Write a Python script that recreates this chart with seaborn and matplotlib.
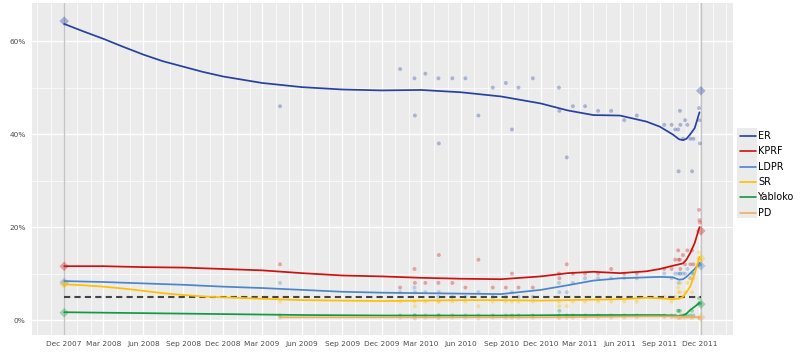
import matplotlib
matplotlib.use("Agg")
import matplotlib.pyplot as plt
import matplotlib.dates as mdates
from matplotlib.lines import Line2D
from matplotlib.patches import Rectangle
from matplotlib.ticker import FixedLocator, FuncFormatter
import numpy as np
import pandas as pd
import seaborn as sns

# ---------------- data ----------------
parties = ["ER", "KPRF", "LDPR", "SR", "Yabloko", "PD"]
party_colors = ["#2840a0", "#cc1111", "#4a86c8", "#ffbf00", "#119944", "#e8b060"]

# smoothed trend lines
smooth_dates = ["2007-12-02", "2008-01-15", "2008-03-01", "2008-04-15", "2008-06-01", "2008-07-15",
                "2008-09-01", "2008-10-15", "2008-12-01", "2009-03-01", "2009-06-01", "2009-09-01",
                "2009-12-01", "2010-03-01", "2010-06-01", "2010-09-01", "2010-12-01", "2011-02-01",
                "2011-04-01", "2011-06-01", "2011-08-01", "2011-09-01", "2011-10-01", "2011-10-15",
                "2011-10-24", "2011-11-01", "2011-11-10", "2011-11-20", "2011-12-01"]
er_smooth = [63.7, 62.1, 60.5, 58.8, 57.1, 55.7, 54.5, 53.4, 52.4, 51.0, 50.1, 49.6,
             49.4, 49.5, 49.0, 48.1, 46.6, 45.1, 44.1, 44.0, 42.7, 41.6, 39.9, 38.9,
             38.7, 39.0, 40.0, 41.3, 44.7]
kprf_smooth = [11.6, 11.6, 11.6, 11.5, 11.4, 11.35, 11.3, 11.15, 11.0, 10.7, 10.1, 9.6,
               9.4, 9.1, 8.9, 8.8, 9.4, 10.1, 10.4, 10.1, 10.5, 11.0, 11.7, 12.0,
               12.2, 13.0, 14.5, 16.6, 20.0]
ldpr_smooth = [8.4, 8.3, 8.2, 8.05, 7.9, 7.75, 7.6, 7.4, 7.2, 6.9, 6.5, 6.1,
               5.9, 5.8, 5.7, 5.6, 6.5, 7.5, 8.5, 9.0, 9.2, 9.3, 9.2, 8.7,
               8.8, 9.3, 10.1, 11.0, 12.3]
sr_smooth = [7.7, 7.5, 7.2, 6.8, 6.3, 5.8, 5.4, 5.1, 4.9, 4.6, 4.3, 4.2,
             4.1, 4.2, 4.3, 4.3, 4.2, 4.3, 4.4, 4.5, 4.8, 4.7, 4.5, 4.6,
             5.0, 6.0, 7.3, 10.0, 13.6]
yabloko_smooth = [1.7, 1.65, 1.6, 1.55, 1.5, 1.45, 1.4, 1.35, 1.3, 1.2, 1.1, 1.05,
                  1.0, 1.0, 1.0, 1.0, 1.05, 1.1, 1.1, 1.1, 1.1, 1.1, 1.0, 0.9,
                  1.0, 1.4, 2.2, 2.9, 3.7]
pd_smooth_dates = ["2009-04-11", "2009-09-01", "2009-12-01", "2010-06-01", "2010-12-01",
                   "2011-04-01", "2011-08-01", "2011-10-15", "2011-11-10", "2011-12-01"]
pd_smooth = [0.6, 0.6, 0.6, 0.6, 0.6, 0.7, 0.8, 0.8, 0.7, 0.6]

# individual polls
poll_dates = ["2009-04-11", "2010-01-12", "2010-02-14", "2010-02-15", "2010-03-11", "2010-04-10",
              "2010-04-11", "2010-05-12", "2010-06-11", "2010-07-11", "2010-08-13", "2010-09-12",
              "2010-09-26", "2010-10-11", "2010-11-13", "2011-01-12", "2011-01-13", "2011-01-30",
              "2011-02-13", "2011-03-13", "2011-04-12", "2011-05-12", "2011-06-11", "2011-07-10",
              "2011-09-11", "2011-09-28", "2011-10-06", "2011-10-13", "2011-10-14", "2011-10-17",
              "2011-10-18", "2011-10-24", "2011-10-29", "2011-11-03", "2011-11-10", "2011-11-14",
              "2011-11-17", "2011-11-30", "2011-12-01", "2011-12-02"]
poll_er = [46, 54, 52, 44, 53, 52, 38, 52, 52, 44, 50, 51,
           41, 50, 52, 50, 45, 35, 46, 46, 45, 45, 43, 44,
           42, 42, 41, 41, 32, 45, 42, 39, 43, 42, 39, 32,
           39, 45.6, 43, 38]
poll_kprf = [12, 7, 11, 8, 8, 8, 14, 8, 7, 13, 7, 7,
             10, 7, 7, 10, 9, 12, 10, 10, 10, 11, 10, 10,
             11, 11, 13, 15, 13, 13, 11, 14, 12, 15, 12, 15,
             12, 23.7, 21.5, 21]
poll_ldpr = [8, 6, 7, 6, 6, 5, 6, 5, 5, 6, 5, 5,
             6, 5, 5, 8, 6, 6, 8, 9, 9, 9, 9, 9,
             10, 9, 10, 10, 8, 10, 10, 10, 10, 11, 9, 10,
             10, 11.8, 12, 12]
poll_sr = [4, 4, 4, 3, 4, 4, 4, 4, 4, 3, 4, 4,
           4, 4, 4, 4, 3, 3, 4, 4, 4, 4, 4, 4,
           5, 4, 5, 7, 6, 6, 8, 5, 6, 8, 9, 6,
           9, 14.6, 13.3, 13]
poll_yabloko = [1, 1, 1, 1, 1, 1, 1, 1, 1, 1, 1, 1,
                1, 1, 1, 1, 2, 1, 1, 1, 1, 1, 1, 1,
                1, 1, 1, 2, 2, 2, 1, 1, 1, 1, 1, 2,
                1, 4.7, 3.7, 3.5]
poll_pd = [0.5, 0.5, 0.5, 0.3, 0.5, 0.5, 0.5, 0.5, 0.5, 0.3, 0.5, 0.5,
           0.5, 0.5, 0.5, 0.5, 0.5, 0.5, 0.5, 0.5, 0.5, 0.5, 0.5, 0.6,
           0.6, 0.6, 0.6, 0.5, 0.5, 0.5, 0.5, 0.5, 0.5, 0.6, 0.5, 0.5,
           0.6, 0.5, 0.5, 0.5]

# election results
election_dates = ["2007-12-02", "2011-12-04"]
election_er = [64.3, 49.32]
election_kprf = [11.57, 19.19]
election_ldpr = [8.14, 11.67]
election_sr = [7.74, 13.24]
election_yabloko = [1.59, 3.43]
election_pd = [np.nan, 0.6]

threshold = 5

# ---------------- build frames ----------------
smooth_vals = [er_smooth, kprf_smooth, ldpr_smooth, sr_smooth, yabloko_smooth]
smooth_df = pd.concat(
    [pd.DataFrame({"date": pd.to_datetime(smooth_dates), "value": v, "party": p})
     for p, v in zip(parties[:5], smooth_vals)]
    + [pd.DataFrame({"date": pd.to_datetime(pd_smooth_dates), "value": pd_smooth, "party": "PD"})],
    ignore_index=True)

poll_vals = [poll_er, poll_kprf, poll_ldpr, poll_sr, poll_yabloko, poll_pd]
poll_df = pd.concat(
    [pd.DataFrame({"date": pd.to_datetime(poll_dates), "value": v, "party": p})
     for p, v in zip(parties, poll_vals)], ignore_index=True)

el_vals = [election_er, election_kprf, election_ldpr, election_sr, election_yabloko, election_pd]
el_df = pd.concat(
    [pd.DataFrame({"date": pd.to_datetime(election_dates), "value": v, "party": p})
     for p, v in zip(parties, el_vals)], ignore_index=True).dropna()

palette = dict(zip(parties, party_colors))

# ---------------- plot ----------------
sns.set_style("darkgrid", {"axes.facecolor": "#EBEBEB", "grid.color": "white"})
plt.rcParams["font.family"] = ["DejaVu Sans"]

fig = plt.figure(figsize=(8.0, 3.56), dpi=100)
ax = fig.add_axes([32 / 800, 1 - 335 / 356, (733 - 32) / 800, (335 - 3) / 356])
ax.set_facecolor("#EBEBEB")

# election vertical lines
for d in election_dates:
    ax.axvline(pd.Timestamp(d), color="#c4c4c4", lw=1.0, zorder=1)

sns.scatterplot(data=poll_df, x="date", y="value", hue="party", palette=palette,
                s=8, alpha=0.33, linewidth=0, legend=False, ax=ax, zorder=2)
sns.scatterplot(data=el_df, x="date", y="value", hue="party", palette=palette,
                s=24, marker="D", alpha=0.35, linewidth=0, legend=False, ax=ax, zorder=2)
ax.hlines(threshold, pd.Timestamp(election_dates[0]), pd.Timestamp(election_dates[1]),
          colors="#444444", linestyles=(0, (3, 2)), lw=1.5, zorder=3)
sns.lineplot(data=smooth_df, x="date", y="value", hue="party", palette=palette,
             lw=1.25, legend=False, ax=ax, zorder=4, estimator=None, sort=True)

ax.set_xlim(pd.Timestamp("2007-09-19"), pd.Timestamp("2012-02-16"))
ax.set_ylim(-3.2, 68.2)

ax.xaxis.set_major_locator(mdates.MonthLocator(bymonth=[3, 6, 9, 12]))
ax.xaxis.set_minor_locator(mdates.MonthLocator())
ax.xaxis.set_major_formatter(mdates.DateFormatter("%b %Y"))
ax.yaxis.set_major_locator(FixedLocator([0, 20, 40, 60]))
ax.yaxis.set_minor_locator(FixedLocator([10, 30, 50]))
ax.yaxis.set_major_formatter(FuncFormatter(lambda v, p: f"{v:.0f}%"))

ax.grid(which="major", color="white", lw=1.0)
ax.grid(which="minor", color="white", lw=0.5)
ax.set_axisbelow(True)
for s in ax.spines.values():
    s.set_visible(False)
ax.tick_params(which="major", length=2.5, width=0.6, color="#555555",
               labelsize=5.3, labelcolor="#4d4d4d", pad=2)
ax.tick_params(which="minor", length=0)
ax.set_xlabel("")
ax.set_ylabel("")

# legend (ggplot style)
fig.add_artist(Rectangle((737 / 800, 1 - 218 / 356), 20 / 800, 90 / 356,
                         transform=fig.transFigure, facecolor="#EBEBEB", edgecolor="none"))
for i, (p, c) in enumerate(zip(parties, party_colors)):
    yc = 1 - (136 + i * 15.3) / 356
    fig.add_artist(Line2D([740 / 800, 756 / 800], [yc, yc], transform=fig.transFigure,
                          color=c, lw=1.2))
    fig.text(758 / 800, yc, p, va="center", ha="left", fontsize=6.9, color="black")

fig.savefig("out.png", dpi=100)
